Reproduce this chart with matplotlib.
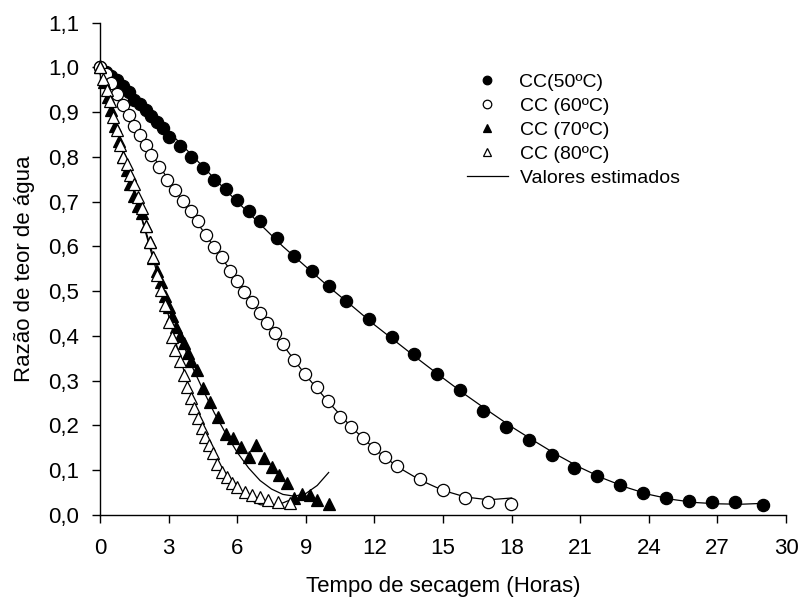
import matplotlib
matplotlib.use("Agg")
import matplotlib.pyplot as plt
from matplotlib.lines import Line2D

plt.rcParams['font.family'] = ['Liberation Sans', 'DejaVu Sans']

# ---- observed data (moisture ratio vs drying time, hours) ----
t50 = [0, 0.25, 0.5, 0.75, 1.0, 1.25, 1.5, 1.75, 2.0, 2.25, 2.5, 2.75, 3.0, 3.5, 4.0,
       4.5, 5.0, 5.5, 6.0, 6.5, 7.0, 7.75, 8.5, 9.25, 10.0, 10.75, 11.75, 12.75, 13.75,
       14.75, 15.75, 16.75, 17.75, 18.75, 19.75, 20.75, 21.75, 22.75, 23.75, 24.75,
       25.75, 26.75, 27.75, 29.0]
mr50 = [1.0, 0.99, 0.98, 0.971, 0.958, 0.945, 0.928, 0.918, 0.905, 0.891, 0.878, 0.865,
        0.845, 0.824, 0.801, 0.776, 0.749, 0.729, 0.703, 0.679, 0.658, 0.619, 0.578,
        0.546, 0.512, 0.479, 0.439, 0.398, 0.360, 0.315, 0.279, 0.232, 0.197, 0.168,
        0.133, 0.106, 0.087, 0.066, 0.050, 0.039, 0.032, 0.028, 0.028, 0.023]

t60 = [0, 0.25, 0.5, 0.75, 1.0, 1.25, 1.5, 1.75, 2.0, 2.25, 2.6, 2.95, 3.3, 3.62, 3.98,
       4.3, 4.63, 4.98, 5.32, 5.68, 5.98, 6.3, 6.65, 7.0, 7.3, 7.65, 8.0, 8.47, 8.97,
       9.47, 9.98, 10.49, 10.97, 11.48, 11.98, 12.47, 12.97, 13.98, 14.98, 15.97,
       16.98, 17.97]
mr60 = [1.0, 0.985, 0.965, 0.94, 0.915, 0.893, 0.870, 0.849, 0.827, 0.804, 0.778, 0.748,
        0.726, 0.702, 0.679, 0.657, 0.626, 0.599, 0.576, 0.545, 0.522, 0.499, 0.477,
        0.452, 0.430, 0.406, 0.381, 0.346, 0.315, 0.285, 0.255, 0.220, 0.197, 0.171,
        0.149, 0.130, 0.109, 0.080, 0.056, 0.039, 0.028, 0.025]

t70 = [0, 0.17, 0.33, 0.5, 0.67, 0.83, 1.0, 1.17, 1.33, 1.5, 1.67, 1.83, 2.0, 2.17, 2.33,
       2.5, 2.67, 2.83, 3.0, 3.17, 3.33, 3.5, 3.67, 3.83, 4.0, 4.25, 4.5, 4.83, 5.17,
       5.5, 5.83, 6.17, 6.5, 6.83, 7.17, 7.5, 7.83, 8.17, 8.5, 8.83, 9.17, 9.5, 10.0]
mr70 = [1.0, 0.968, 0.935, 0.905, 0.87, 0.835, 0.80, 0.77, 0.74, 0.712, 0.69, 0.674,
        0.645, 0.61, 0.575, 0.545, 0.52, 0.49, 0.465, 0.445, 0.42, 0.40, 0.384, 0.361,
        0.343, 0.324, 0.283, 0.253, 0.220, 0.182, 0.171, 0.153, 0.130, 0.156, 0.127,
        0.108, 0.089, 0.071, 0.037, 0.048, 0.045, 0.034, 0.024]

t80 = [0, 0.15, 0.29, 0.44, 0.58, 0.73, 0.87, 1.02, 1.17, 1.33, 1.5, 1.67, 1.83, 2.0,
       2.17, 2.33, 2.5, 2.67, 2.83, 3.0, 3.13, 3.28, 3.5, 3.69, 3.82, 3.96, 4.13, 4.3,
       4.45, 4.59, 4.78, 4.93, 5.13, 5.32, 5.57, 5.76, 6.01, 6.34, 6.63, 7.0, 7.36,
       7.8, 8.31]
mr80 = [1.0, 0.975, 0.95, 0.925, 0.89, 0.86, 0.827, 0.80, 0.785, 0.76, 0.74, 0.71,
        0.685, 0.645, 0.61, 0.577, 0.536, 0.503, 0.47, 0.432, 0.398, 0.369, 0.343,
        0.313, 0.287, 0.261, 0.238, 0.216, 0.194, 0.175, 0.156, 0.138, 0.115, 0.097,
        0.086, 0.071, 0.063, 0.052, 0.045, 0.040, 0.034, 0.030, 0.026]

# ---- estimated values (fitted curves) ----
tl50 = list(range(0, 30))
fit50 = [1.0, 0.957, 0.907, 0.857, 0.805, 0.752, 0.70, 0.65, 0.60, 0.555, 0.51, 0.468,
         0.425, 0.385, 0.345, 0.306, 0.268, 0.232, 0.197, 0.165, 0.134, 0.106, 0.082,
         0.062, 0.046, 0.035, 0.028, 0.025, 0.024, 0.026]
tl60 = list(range(0, 19))
fit60 = [1.0, 0.915, 0.828, 0.748, 0.672, 0.598, 0.525, 0.452, 0.38, 0.312, 0.252,
         0.196, 0.148, 0.108, 0.078, 0.055, 0.040, 0.034, 0.038]
tl70 = [0, 0.5, 1, 1.5, 2, 2.5, 3, 3.5, 4, 4.5, 5, 5.5, 6, 6.5, 7, 7.5, 8, 8.5, 9, 9.5, 10]
fit70 = [1.0, 0.905, 0.81, 0.72, 0.635, 0.55, 0.47, 0.40, 0.335, 0.28, 0.228, 0.182,
         0.14, 0.105, 0.077, 0.058, 0.046, 0.042, 0.048, 0.066, 0.095]
tl80 = [0, 0.5, 1, 1.5, 2, 2.5, 3, 3.5, 4, 4.5, 5, 5.5, 6, 6.5, 7, 7.5, 8, 8.33]
fit80 = [1.0, 0.905, 0.81, 0.72, 0.63, 0.54, 0.445, 0.352, 0.265, 0.19, 0.13, 0.087,
         0.056, 0.035, 0.023, 0.021, 0.027, 0.034]

labels = ['CC(50ºC)', 'CC (60ºC)', 'CC (70ºC)', 'CC (80ºC)']
fit_label = 'Valores estimados'
xticks = [0, 3, 6, 9, 12, 15, 18, 21, 24, 27, 30]
yticks = [0.0, 0.1, 0.2, 0.3, 0.4, 0.5, 0.6, 0.7, 0.8, 0.9, 1.0, 1.1]
ytick_labels = ['0,0', '0,1', '0,2', '0,3', '0,4', '0,5', '0,6', '0,7', '0,8', '0,9', '1,0', '1,1']
xlabel = 'Tempo de secagem (Horas)'
ylabel = 'Razão de teor de água'

W, H = 802, 602
fig = plt.figure(figsize=(W / 100, H / 100), dpi=100)
ax = fig.add_axes([100 / W, (H - 515) / H, 686 / W, (515 - 22.7) / H])

for tl, fv in [(tl50, fit50), (tl60, fit60), (tl70, fit70), (tl80, fit80)]:
    ax.plot(tl, fv, color='black', lw=0.9, zorder=2, clip_on=False)

ms = 8.8
mew = 0.9
styles = [('o', 'black'), ('o', 'white'), ('^', 'black'), ('^', 'white')]
all_series = [(t50, mr50), (t60, mr60), (t70, mr70), (t80, mr80)]
for i in [0, 2, 1, 3]:
    tx, my = all_series[i]
    mk, fc = styles[i]
    ax.plot(tx, my, linestyle='none', marker=mk, ms=ms, mfc=fc, mec='black',
            mew=mew, zorder=3 + i, clip_on=False)

ax.set_xlim(0, 30)
ax.set_ylim(0, 1.1)
ax.set_xticks(xticks)
ax.set_xticklabels([str(v) for v in xticks])
ax.set_yticks(yticks)
ax.set_yticklabels(ytick_labels)
for s in ['top', 'right']:
    ax.spines[s].set_visible(False)
for s in ['left', 'bottom']:
    ax.spines[s].set_linewidth(1.0)
ax.tick_params(direction='out', length=6, width=1.0, labelsize=16, colors='black')
ax.tick_params(axis='x', pad=10.5)
ax.tick_params(axis='y', pad=9)

ax.set_xlabel(xlabel, fontsize=16)
ax.set_ylabel(ylabel, fontsize=16)
ax.xaxis.set_label_coords(0.5, -0.124)
ax.yaxis.set_label_coords(-0.095, 0.5)

handles = []
for i in range(4):
    mk, fc = styles[i]
    handles.append(Line2D([], [], linestyle='none', marker=mk, ms=ms, mfc=fc,
                          mec='black', mew=mew))
handles.append(Line2D([], [], color='black', lw=0.9))
leg = fig.legend(handles, labels + [fit_label], loc='upper left',
                 bbox_to_anchor=(467 / W, 1 - 73 / H), frameon=False,
                 fontsize=14, markerscale=0.7, handlelength=2.1,
                 handletextpad=0.6, labelspacing=0.33, borderpad=0, borderaxespad=0)

fig.savefig('out.png', dpi=100)
